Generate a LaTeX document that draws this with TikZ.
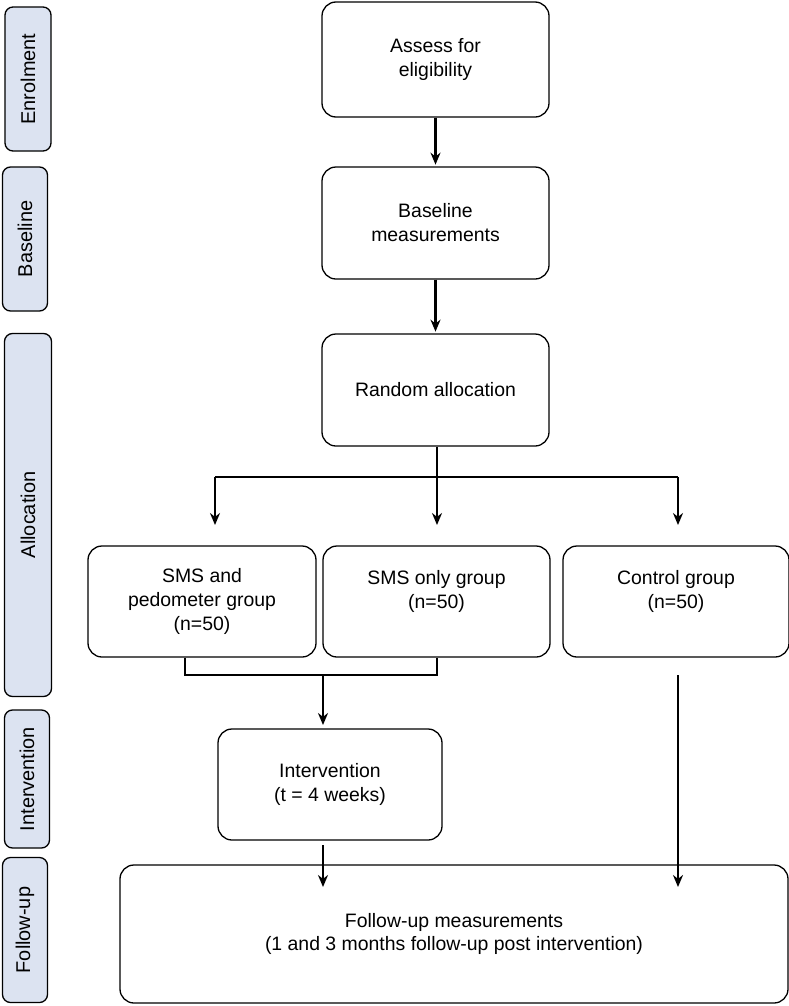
\documentclass[tikz,border=0pt]{standalone}
\usepackage{fontspec}
\setmainfont{Liberation Sans}
\usetikzlibrary{positioning,arrows.meta}
\tikzset{
  box/.style={draw, line width=1.3bp, rounded corners=14bp, align=center, font=\fontsize{19.5}{24}\selectfont},
  tab/.style={draw, line width=1.3bp, rounded corners=8bp, fill=tabblue, font=\fontsize{20}{24}\selectfont},
  flow/.style={-{Stealth[length=12bp,width=10bp]}, line width=2.6bp},
  link/.style={line width=2.6bp}
}
\definecolor{tabblue}{HTML}{DCE3F1}
\begin{document}
\begin{tikzpicture}[x=1bp, y=-1bp]
  \useasboundingbox (0,0) rectangle (789,1006);
  % phase tabs
  \node[tab, minimum width=144bp, minimum height=46bp, rotate=90] (t_enrol) at (28,79)  {Enrolment};
  \node[tab, minimum width=144bp, minimum height=45bp, rotate=90] (t_base)  at (25,239) {Baseline};
  \node[tab, minimum width=363bp, minimum height=47bp, rotate=90] (t_alloc) at (28,515) {Allocation};
  \node[tab, minimum width=138bp, minimum height=45bp, rotate=90] (t_inter) at (27,779) {Intervention};
  \node[tab, minimum width=145bp, minimum height=45bp, rotate=90] (t_follow) at (25,930) {Follow-up};
  % steps
  \node[box, minimum width=227bp, minimum height=115bp] (assess)   at (435.5,59.5)  {Assess for\\eligibility};
  \node[box, minimum width=227bp, minimum height=112bp] (baseline) at (435.5,223)   {Baseline\\measurements};
  \node[box, minimum width=227bp, minimum height=112bp] (random)   at (435.5,390)   {Random allocation};
  \node[box, minimum width=228bp, minimum height=111bp] (g_ped)    at (202,601.5)   {SMS and\\pedometer group\\(n=50)};
  \node[box, minimum width=227bp, minimum height=111bp, text depth=25bp] (g_sms) at (436.5,601.5) {SMS only group\\(n=50)};
  \node[box, minimum width=226bp, minimum height=111bp, text depth=25bp] (g_ctrl) at (676,601.5) {Control group\\(n=50)};
  \node[box, minimum width=224bp, minimum height=111bp] (interv)   at (330,784.5)   {Intervention\\(t = 4 weeks)};
  \node[box, minimum width=668bp, minimum height=138bp] (followup) at (454,934)     {Follow-up measurements\\(1 and 3 months follow-up post intervention)};
  % split / merge points
  \coordinate (c_split) at (437,477);
  \coordinate (c_l) at (215,477);
  \coordinate (c_r) at (678,477);
  \coordinate (c_ml) at (185,675);
  \coordinate (c_mr) at (437,675);
  \coordinate (c_m) at (323,675);
  \coordinate (c_ctrl) at (678,675);
  \coordinate (c_iv) at (323,845);
  % connectors
  \draw[flow] (assess.south) -- ++(0,47);
  \draw[flow] (baseline.south) -- ++(0,52);
  \draw[link] (random.south -| c_split) -- (c_split);
  \draw[link] (c_l) -- (c_r);
  \draw[flow] (c_l) -- ++(0,48);
  \draw[flow] (c_split) -- ++(0,48);
  \draw[flow] (c_r) -- ++(0,48);
  \draw[link] (g_ped.south -| c_ml) -- (c_ml) -- (c_mr) -- (g_sms.south -| c_mr);
  \draw[flow] (c_m) -- ++(0,50);
  \draw[flow] (c_ctrl) -- ++(0,212);
  \draw[flow] (c_iv) -- ++(0,42);
\end{tikzpicture}
\end{document}
